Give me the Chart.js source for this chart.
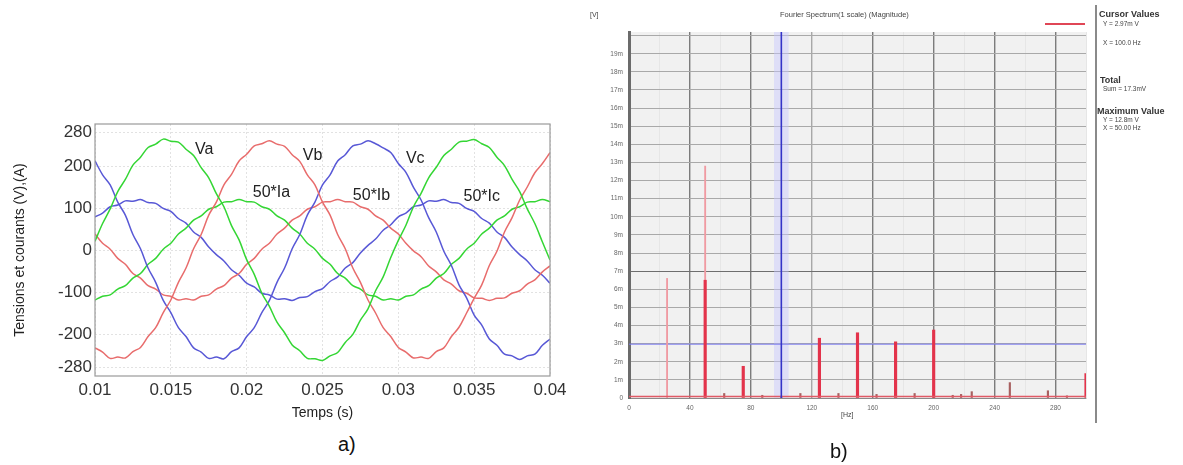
<!DOCTYPE html>
<html>
<head>
<meta charset="utf-8">
<script src="https://cdn.jsdelivr.net/npm/chart.js@4.4.0/dist/chart.umd.min.js"></script>
<style>
  body { margin: 0; width: 1183px; height: 465px; background: #fff; position: relative; overflow: hidden;
         font-family: "Liberation Sans", Arial, sans-serif; }
  #wrapA { position: absolute; left: 0; top: 100px; width: 585px; height: 330px; }
  #wrapB { position: absolute; left: 585px; top: 0; width: 598px; height: 430px; }
  .t { position: absolute; white-space: nowrap; line-height: 1; color: #444; }
  .s { font-size: 6.5px; }
  .b { font-size: 9px; font-weight: bold; color: #333; }
</style>
</head>
<body>
<div id="wrapA"><canvas id="chartA" width="585" height="330"></canvas></div>
<div id="wrapB"><canvas id="chartB" width="598" height="430"></canvas></div>

<div class="t" style="left:590px; top:11px; font-size:7px;">[V]</div>
<div class="t" style="left:780px; top:11px; font-size:7.5px;">Fourier Spectrum(1 scale) (Magnitude)</div>
<div style="position:absolute; left:1045px; top:23px; width:40px; height:1.5px; background:#e04656;"></div>
<div style="position:absolute; left:1095px; top:5px; width:1.5px; height:418px; background:#8a8a8a;"></div>
<div class="t b" style="left:1099px; top:10px;">Cursor Values</div>
<div class="t s" style="left:1103px; top:21px;">Y = 2.97m V</div>
<div class="t s" style="left:1103px; top:40px;">X = 100.0 Hz</div>
<div class="t b" style="left:1100px; top:76px;">Total</div>
<div class="t s" style="left:1103px; top:86px;">Sum = 17.3mV</div>
<div class="t b" style="left:1097px; top:107px;">Maximum Value</div>
<div class="t s" style="left:1103px; top:117px;">Y = 12.8m V</div>
<div class="t s" style="left:1103px; top:125px;">X = 50.00 Hz</div>
<div class="t" style="left:841px; top:411px; font-size:7px;">[Hz]</div>
<div class="t" style="left:338px; top:434px; font-size:20px; color:#111;">a)</div>
<div class="t" style="left:830px; top:441px; font-size:20px; color:#111;">b)</div>

<script>
// ---------------------- DATA (a) -------------------------
const timeS = Array.from({ length: 61 }, (_, i) => +(0.01 + i * 0.0005).toFixed(4));

const va = [21,63,98,139,168,202,221,244,252,264,259,257,240,225,196,172,134,103,58,24,-23,-58,-103,-134,-172,-197,-226,-240,-258,-259,-263,-252,-244,-220,-201,-167,-140,-97,-64,-18,23,59,103,135,172,197,225,240,257,259,263,253,244,221,201,168,139,98,63,19,-24];
const vb = [-233,-243,-258,-255,-257,-242,-232,-206,-185,-149,-119,-77,-43,3,37,83,114,155,180,212,228,248,253,260,252,247,227,211,179,155,114,83,37,3,-43,-77,-119,-150,-185,-206,-232,-243,-257,-255,-258,-242,-233,-206,-184,-150,-115,-83,-37,-3,43,77,119,150,184,206,232];
const vc = [212,179,155,114,83,37,3,-43,-77,-120,-149,-185,-206,-233,-243,-258,-255,-259,-242,-233,-206,-185,-149,-120,-77,-43,3,37,83,114,155,179,212,227,248,252,260,253,243,232,206,185,149,119,77,43,-3,-37,-83,-114,-155,-179,-212,-227,-248,-252,-261,-252,-248,-227,-212];
const ia = [-119,-110,-107,-93,-85,-67,-56,-34,-20,2,16,38,52,71,81,97,103,114,115,120,115,114,103,97,81,71,52,38,16,2,-20,-34,-56,-67,-85,-93,-107,-110,-119,-116,-119,-110,-107,-93,-85,-67,-56,-34,-20,2,16,38,52,71,81,97,103,114,115,120,115];
const ib = [38,16,2,-20,-34,-56,-67,-85,-93,-107,-110,-119,-116,-119,-110,-107,-93,-85,-67,-56,-34,-20,2,16,38,52,71,81,97,103,114,115,120,115,114,103,97,81,71,52,38,16,-2,-16,-38,-52,-71,-81,-97,-103,-114,-115,-120,-115,-114,-103,-97,-81,-71,-52,-38];
const ic = [79,88,103,107,117,116,120,113,111,99,92,75,64,43,30,7,-11,-26,-47,-60,-79,-88,-103,-107,-117,-116,-120,-113,-111,-99,-92,-75,-64,-43,-30,-7,11,26,47,60,79,88,103,107,117,116,120,113,111,99,92,75,64,43,30,7,-11,-26,-47,-60,-79];

const xTicksA = [0.01, 0.015, 0.02, 0.025, 0.03, 0.035, 0.04];
const yTicksA = [-280, -200, -100, 0, 100, 200, 280];

const curveNames = ['Va', 'Vb', 'Vc', '50*Ia', '50*Ib', '50*Ic'];
const curveNameT = [0.0166, 0.0237, 0.0305, 0.0204, 0.0270, 0.0343];
const curveNameV = [238, 224, 217, 136, 129, 126];

// ---------------------- DATA (b) -------------------------
const mainFreq = [50, 75, 125, 150, 175, 200, 300];
const mainMag  = [6.5, 1.75, 3.3, 3.6, 3.1, 3.75, 1.35];
const thinFreq = [25, 50];
const thinMag  = [6.6, 12.8];
const smallFreq = [62.5, 87.5, 100, 112.5, 137.5, 162.5, 187.5, 212.5, 218, 225, 250, 275, 287.5];
const smallMag  = [0.25, 0.15, 0.1, 0.25, 0.25, 0.2, 0.25, 0.15, 0.2, 0.35, 0.85, 0.4, 0.12];
const cursorX = 100;
const cursorY = 2.97;
const yTicksB = Array.from({ length: 41 }, (_, i) => i * 0.5);
const xTicksB = Array.from({ length: 16 }, (_, i) => i * 20);

const GREEN = 'rgb(52,214,52)';
const RED = 'rgb(232,108,108)';
const BLUE = 'rgb(88,88,214)';

// ---------------------- HELPERS -------------------------
function series(label, values, color) {
      return {
            label: label,
            data: values.map((v, i) => ({ x: timeS[i], y: v })),
            borderColor: color,
            borderWidth: 1.5,
            pointRadius: 0,
            fill: false,
            tension: 0.35
      };
}

const boxAndNames = {
      id: 'boxAndNames',
      afterDraw(chart) {
            const { ctx, chartArea: a, scales } = chart;
            ctx.save();
            ctx.strokeStyle = '#9a9a9a';
            ctx.lineWidth = 1.2;
            ctx.strokeRect(a.left, a.top, a.right - a.left, a.bottom - a.top);
            ctx.fillStyle = '#222';
            ctx.font = '16px "Liberation Sans", Arial, sans-serif';
            ctx.textBaseline = 'middle';
            curveNames.forEach((name, i) => {
                  ctx.fillText(name, scales.x.getPixelForValue(curveNameT[i]), scales.y.getPixelForValue(curveNameV[i]));
            });
            ctx.restore();
      }
};

const plotBg = {
      id: 'plotBg',
      beforeDraw(chart) {
            const { ctx, chartArea: a } = chart;
            ctx.save();
            ctx.fillStyle = '#f1f1f1';
            ctx.fillRect(a.left, a.top, a.right - a.left, a.bottom - a.top);
            ctx.restore();
      }
};

// ---------------------- CHART (a) -------------------------
new Chart(document.getElementById('chartA'), {
      type: 'line',
      data: {
            datasets: [
                  series('Va', va, GREEN),
                  series('Vb', vb, RED),
                  series('Vc', vc, BLUE),
                  series('Ia', ia, GREEN),
                  series('Ib', ib, RED),
                  series('Ic', ic, BLUE)
            ]
      },
      options: {
            responsive: false,
            animation: false,
            layout: { padding: { top: 24, right: 35, left: 0, bottom: 0 } },
            plugins: { legend: { display: false }, tooltip: { enabled: false } },
            scales: {
                  x: {
                        type: 'linear', min: 0.01, max: 0.04,
                        afterBuildTicks: s => { s.ticks = xTicksA.map(v => ({ value: v })); },
                        afterFit: s => { s.height = 54; },
                        grid: { color: '#e2e2e2', drawTicks: false },
                        border: { display: false, dash: [2, 2] },
                        ticks: { padding: 4, color: '#333', font: { size: 17 }, callback: v => String(v) },
                        title: { display: true, text: 'Temps (s)', color: '#222', font: { size: 14 }, padding: { top: 0, bottom: 8 } }
                  },
                  y: {
                        min: -300, max: 300,
                        afterBuildTicks: s => { s.ticks = yTicksA.map(v => ({ value: v })); },
                        afterFit: s => { s.width = 95; },
                        grid: { color: '#e2e2e2', drawTicks: false },
                        border: { display: false, dash: [2, 2] },
                        ticks: { padding: 3, color: '#333', font: { size: 17 } },
                        title: { display: true, text: 'Tensions et courants (V),(A)', color: '#222', font: { size: 14 }, padding: { top: 12, bottom: 0 } }
                  }
            }
      },
      plugins: [boxAndNames]
});

// ---------------------- CHART (b) -------------------------
const pts = (xs, ys) => xs.map((x, i) => ({ x: x, y: ys[i] }));

new Chart(document.getElementById('chartB'), {
      type: 'bar',
      data: {
            datasets: [
                  { type: 'line', data: [{ x: cursorX, y: 0 }, { x: cursorX, y: 20.2 }], borderColor: '#3434c8', borderWidth: 1.6, pointRadius: 0, order: 1 },
                  { type: 'line', data: [{ x: 0, y: 0.08 }, { x: 300, y: 0.08 }], borderColor: '#e05a66', borderWidth: 1.5, pointRadius: 0, order: 2 },
                  { data: pts(mainFreq, mainMag), backgroundColor: '#e3334b', barThickness: 2.5, grouped: false, order: 3 },
                  { data: pts(smallFreq, smallMag), backgroundColor: '#a86060', barThickness: 1.5, grouped: false, order: 4 },
                  { data: pts(thinFreq, thinMag), backgroundColor: '#f09aa2', barThickness: 1.2, grouped: false, order: 5 },
                  { type: 'line', data: [{ x: 0, y: cursorY }, { x: 300, y: cursorY }], borderColor: '#7a7af0', borderWidth: 1, pointRadius: 0, order: 6 },
                  { data: [{ x: cursorX, y: 20.2 }], backgroundColor: 'rgba(200,200,255,0.45)', barThickness: 14, grouped: false, order: 7 }
            ]
      },
      options: {
            responsive: false,
            animation: false,
            layout: { padding: { top: 32, right: 97, left: 0, bottom: 0 } },
            plugins: { legend: { display: false }, tooltip: { enabled: false } },
            scales: {
                  x: {
                        type: 'linear', min: 0, max: 300, offset: false,
                        afterBuildTicks: s => { s.ticks = xTicksB.map(v => ({ value: v })); },
                        afterFit: s => { s.height = 32; },
                        grid: {
                              offset: false, drawTicks: false,
                              color: c => c.tick.value % 40 === 0 ? (c.tick.value === 120 ? '#a8a8a8' : '#7c7c7c') : '#e6e6e6',
                              lineWidth: c => c.tick.value % 40 === 0 ? 1.4 : 1
                        },
                        border: { display: true, color: '#8a8a8a', width: 1 },
                        ticks: { padding: 6, color: '#666', font: { size: 6.5 }, callback: v => v % 40 === 0 ? String(v) : '' }
                  },
                  y: {
                        min: 0, max: 20.2,
                        afterBuildTicks: s => { s.ticks = yTicksB.map(v => ({ value: v })); },
                        afterFit: s => { s.width = 44; },
                        grid: {
                              drawTicks: false,
                              color: c => Number.isInteger(c.tick.value) ? (c.tick.value === 7 ? '#6e6e6e' : '#a9a9a9') : '#dedede'
                        },
                        border: { display: true, color: '#6b6b6b', width: 3 },
                        ticks: {
                              padding: 6, color: '#666', font: { size: 6.5 },
                              callback: v => Number.isInteger(v) && v < 20 ? (v === 0 ? '0' : v + 'm') : ''
                        }
                  }
            }
      },
      plugins: [plotBg]
});
</script>
</body>
</html>
